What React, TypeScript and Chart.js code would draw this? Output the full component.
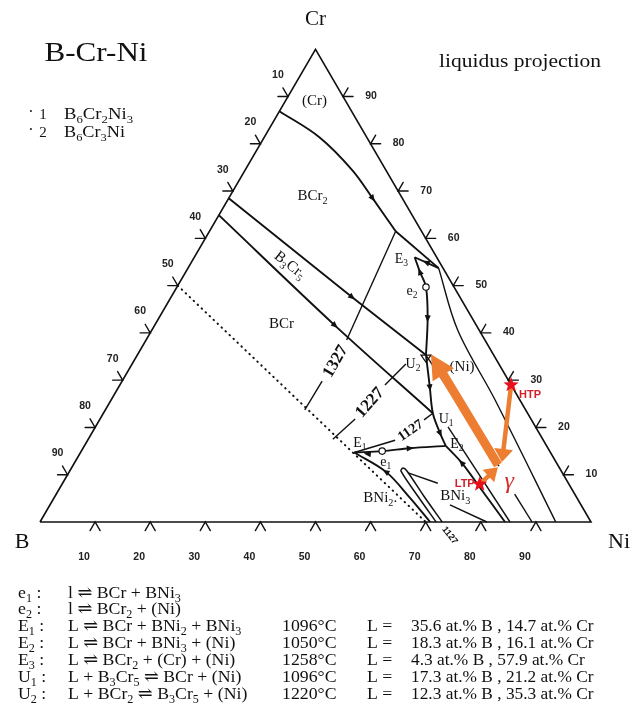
import { useEffect, useRef } from "react";
import { Chart, registerables } from "chart.js";
Chart.register(...registerables);

// ---------- data: compositions as [at.% B, at.% Cr] (Ni = 100 - B - Cr) ----------
type BC = [number, number];

const TICKS = [10, 20, 30, 40, 50, 60, 70, 80, 90];

// invariant reactions (table)
const INV_LABELS = ["e_1 :", "e_2 :", "E_1 :", "E_2 :", "E_3 :", "U_1 :", "U_2 :"];
const INV_REACTIONS = [
  "l ⇌ BCr + BNi_3",
  "l ⇌ BCr_2 + (Ni)",
  "L ⇌ BCr + BNi_2 + BNi_3",
  "L ⇌ BCr + BNi_3 + (Ni)",
  "L ⇌ BCr_2 + (Cr) + (Ni)",
  "L + B_3Cr_5 ⇌ BCr + (Ni)",
  "L + BCr_2 ⇌ B_3Cr_5 + (Ni)",
];
const INV_TEMPS = ["", "", "1096°C", "1050°C", "1258°C", "1096°C", "1220°C"];
const INV_B = [null, null, 35.6, 18.3, 4.3, 17.3, 12.3];
const INV_CR = [null, null, 14.7, 16.1, 57.9, 21.2, 35.3];

// invariant points as drawn
const P_E1: BC = [35.6, 14.7];
const P_E2: BC = [18.3, 16.1];
const P_U2: BC = [12.3, 35.3];
const P_E3: BC = [4.0, 56.0];
const P_U1: BC = [17.2, 23.0];
const P_V: BC = [4.7, 61.5];
const P_P1: BC = [0.8, 53.7];
const P_e1: BC = [30.4, 15.0];
const P_e2: BC = [5.1, 49.7];

// triangle outline: B, Cr, Ni, B
const EDGES: BC[] = [[100, 0], [0, 100], [0, 0], [100, 0]];

// boundary curves
const CR_BCR2: BC[] = [[13.1, 86.9], [8.6, 81.4], [6.1, 74.4], [5.4, 68.5], P_V];
const V_P1: BC[] = [P_V, P_P1];
const E3_P1: BC[] = [P_E3, P_P1];
const B3CR5_UPPER: BC[] = [[31.5, 68.5], [19.6, 47.6], P_U2];
const B3CR5_LOWER: BC[] = [[35.1, 64.9], [25.7, 41.6], P_U1];
const E3_U2: BC[] = [P_E3, [4.6, 52.9], P_e2, [8.1, 43.1], P_U2];
const U2_E2: BC[] = [P_U2, [15.0, 28.5], P_U1, [18.0, 18.8], P_E2];
const E1_E2: BC[] = [P_E1, P_e1, [25.1, 15.6], P_E2];
const E1_BASE: BC[] = [P_E1, [31.9, 10.6], [30.3, 5.1], [29.2, 0]];
const BNI3_DOME: BC[] = [[28.1, 0], [28.7, 5.5], [29.1, 10.8], [28.4, 11.4], [28.0, 10.8], [27.6, 5.5], [27.0, 0]];
const BNI3_LEAD1: BC[] = [[28.0, 10.4], [23.7, 8.2]];
const BNI3_LEAD2: BC[] = [[23.8, 3.6], [18.9, 0]];
const E2_BASE: BC[] = [P_E2, [17.2, 12.5], [16.5, 7.2], [15.6, 0]];
const U1_LINE: BC[] = [[15.9, 20.1], [14.7, 0]];
const U2_LINE_A: BC[] = [P_U2, [10.8, 11.8]];
const U2_LINE_B: BC[] = [[10.9, 5.9], [10.7, 0]];
const P1_LINE: BC[] = [P_P1, [3.9, 40.6], [4.5, 25.8], [6.4, 0]];
const DOTTED: BC[] = [[50, 50], [30, 0]];

// isotherms (two pieces each, label in the gap)
const ISO_LABELS = ["1327", "1227", "1127"];
const ISO_A: BC[][] = [[[40.1, 23.7], [33.9, 29.8]], [[38.1, 17.5], [31.9, 21.8]], [P_E1, [26.9, 17.3]]];
const ISO_B: BC[][] = [[[25.1, 38.5], P_V], [[22.9, 29.0], [16.9, 33.4]], [[19.5, 21.6], P_U1]];
const ISO_LABEL_POS: BC[] = [[29.5, 34.1], [27.6, 25.4], [23.1, 19.5]];

// direction arrowheads on the curves: [at, towards]
const FLOW_ARROWS: [BC, BC][] = [
  [[5.4, 68.5], P_V],
  [[19.6, 47.6], P_U2],
  [[25.7, 41.6], P_U1],
  [[4.6, 52.9], P_E3],
  [[8.1, 43.1], P_U2],
  [[15.0, 28.5], P_U1],
  [[18.0, 18.8], P_E2],
  [[2.4, 54.9], P_E3],
  [[25.1, 15.6], P_E2],
  [[33.3, 14.4], P_E1],
  [[31.9, 10.6], P_E1],
  [[17.2, 12.5], P_E2],
];

// phase-field labels
const FIELD_TEXT = ["(Cr)", "BCr_2", "BCr", "BNi_2.", "BNi_3", "(Ni)"];
const FIELD_POS: BC[] = [[5.6, 89.2], [16.0, 69.1], [35.1, 42.1], [35.6, 5.3], [21.8, 5.7], [6.9, 33.0]];
const B3CR5_POS: BC = [27.3, 54.5];
const POINT_TEXT = ["E_3", "e_2", "U_2", "U_1", "E_2", "E_1", "e_1"];
const POINT_POS: BC[] = [[6.5, 55.8], [8.0, 49.0], [15.5, 33.6], [15.3, 22.0], [16.0, 16.7], [33.5, 16.9], [30.8, 12.9]];

// annotations (orange arrows, stars)
const HTP: BC = [0, 29.0];
const LTP: BC = [16.2, 8.0];
const GAMMA: BC = [10.85, 12.05];
const ARROW_BIG: [BC, BC] = [GAMMA, [11.3, 35.5]];
const ARROW_HTP: [BC, BC] = [HTP, [9.8, 12.7]];
const ARROW_LTP: [BC, BC] = [LTP, [11.1, 11.6]];
const GAMMA_LABEL: BC = [10.4, 8.9];

// ---------- layout ----------
const W = 627;
const H = 701;
const PPU = 5.51;
const OX = 32;
const OY = 514;
const X_MIN = -OX / PPU;
const X_MAX = X_MIN + W / PPU;
const Y_MAX = OY / PPU;
const Y_MIN = Y_MAX - H / PPU;
const KX = 0.5;
const KY = 0.858;

const toXY = (p: BC) => {
  const [b, cr] = p;
  const ni = 100 - b - cr;
  return { x: ni + cr * KX, y: cr * KY };
};

const SERIF = '"Liberation Serif", "DejaVu Serif", serif';
const SANS = '"Liberation Sans", Arial, sans-serif';

function richText(
  ctx: CanvasRenderingContext2D,
  str: string,
  x: number,
  y: number,
  size: number,
  align: "left" | "center" | "right" = "left",
  opts: { family?: string; style?: string; color?: string; hs?: number; width?: number } = {}
) {
  const family = opts.family || SERIF;
  const style = opts.style ? opts.style + " " : "";
  const segs: { t: string; sub: boolean; w: number }[] = [];
  for (let i = 0; i < str.length; i++) {
    if (str[i] === "_" && i + 1 < str.length) {
      segs.push({ t: str[i + 1], sub: true, w: 0 });
      i++;
    } else {
      const last = segs[segs.length - 1];
      if (last && !last.sub) last.t += str[i];
      else segs.push({ t: str[i], sub: false, w: 0 });
    }
  }
  const mf = `${style}${size}px ${family}`;
  const sf = `${style}${(size * 0.68).toFixed(1)}px ${family}`;
  let w = 0;
  for (const s of segs) {
    ctx.font = s.sub ? sf : mf;
    s.w = ctx.measureText(s.t).width;
    w += s.w;
  }
  const hs = opts.width ? opts.width / w : opts.hs || 1;
  ctx.save();
  ctx.translate(x, 0);
  ctx.scale(hs, 1);
  let cx = align === "center" ? -w / 2 : align === "right" ? -w : 0;
  const base = y + size * 0.34;
  ctx.fillStyle = opts.color || "#111";
  ctx.textAlign = "left";
  ctx.textBaseline = "alphabetic";
  for (const s of segs) {
    ctx.font = s.sub ? sf : mf;
    ctx.fillText(s.t, cx, s.sub ? base + size * 0.24 : base);
    cx += s.w;
  }
  ctx.restore();
}

function fatArrow(ctx: CanvasRenderingContext2D, a: number[], b: number[], shaft: number, headW: number, headL: number) {
  const dx = b[0] - a[0], dy = b[1] - a[1];
  const L = Math.hypot(dx, dy);
  const ux = dx / L, uy = dy / L, nx = -uy, ny = ux;
  const bx = b[0] - ux * headL, by = b[1] - uy * headL;
  ctx.beginPath();
  ctx.moveTo(a[0] + (nx * shaft) / 2, a[1] + (ny * shaft) / 2);
  ctx.lineTo(bx + (nx * shaft) / 2, by + (ny * shaft) / 2);
  ctx.lineTo(bx + (nx * headW) / 2, by + (ny * headW) / 2);
  ctx.lineTo(b[0], b[1]);
  ctx.lineTo(bx - (nx * headW) / 2, by - (ny * headW) / 2);
  ctx.lineTo(bx - (nx * shaft) / 2, by - (ny * shaft) / 2);
  ctx.lineTo(a[0] - (nx * shaft) / 2, a[1] - (ny * shaft) / 2);
  ctx.closePath();
  ctx.fill();
}

function star(ctx: CanvasRenderingContext2D, x: number, y: number, R: number, r: number) {
  ctx.beginPath();
  for (let i = 0; i < 10; i++) {
    const ang = -Math.PI / 2 + (i * Math.PI) / 5;
    const rad = i % 2 === 0 ? R : r;
    const px = x + rad * Math.cos(ang), py = y + rad * Math.sin(ang);
    if (i === 0) ctx.moveTo(px, py);
    else ctx.lineTo(px, py);
  }
  ctx.closePath();
  ctx.fill();
}

const overlay = {
  id: "overlay",
  afterDatasetsDraw(chart: any) {
    const ctx: CanvasRenderingContext2D = chart.ctx;
    const sx = chart.scales.x, sy = chart.scales.y;
    const P = (p: BC) => {
      const q = toXY(p);
      return [sx.getPixelForValue(q.x), sy.getPixelForValue(q.y)];
    };
    ctx.save();
    const ink = "#111";
    ctx.strokeStyle = ink;
    ctx.fillStyle = ink;
    ctx.lineCap = "round";

    // ticks
    const pB = P([100, 0]), pC = P([0, 100]), pN = P([0, 0]);
    const norm = (v: number[]) => { const l = Math.hypot(v[0], v[1]); return [v[0] / l, v[1] / l]; };
    const dBC = norm([pC[0] - pB[0], pC[1] - pB[1]]);
    const dNC = norm([pC[0] - pN[0], pC[1] - pN[1]]);
    const TL = 10;
    ctx.lineWidth = 1.4;
    const chevron = (o: number[], a1: number[], a2: number[]) => {
      ctx.beginPath();
      ctx.moveTo(o[0] + a1[0] * TL, o[1] + a1[1] * TL);
      ctx.lineTo(o[0], o[1]);
      ctx.lineTo(o[0] + a2[0] * TL, o[1] + a2[1] * TL);
      ctx.stroke();
    };
    const tickFont = { family: SANS, style: "bold", color: "#222" };
    for (const t of TICKS) {
      // bottom: at.% Ni
      const ob = P([100 - t, 0]);
      chevron(ob, [-dBC[0], -dBC[1]], [-dNC[0], -dNC[1]]);
      richText(ctx, String(t), ob[0] - 11, ob[1] + 34, 10.5, "center", tickFont);
      // left: at.% B
      const ol = P([t, 100 - t]);
      chevron(ol, [-1, 0], dNC);
      richText(ctx, String(t), ol[0] - 10, ol[1] - 22, 10.5, "center", tickFont);
      // right: at.% Cr
      const or = P([0, t]);
      chevron(or, [1, 0], dBC);
      richText(ctx, String(t), or[0] + 28, or[1] - 1, 10.5, "center", tickFont);
    }

    // flow arrows
    for (const [at, to] of FLOW_ARROWS) {
      const a = P(at), b = P(to);
      const [ux, uy] = norm([b[0] - a[0], b[1] - a[1]]);
      const nx = -uy, ny = ux;
      ctx.beginPath();
      ctx.moveTo(a[0] + ux * 4, a[1] + uy * 4);
      ctx.lineTo(a[0] - ux * 3 + nx * 3, a[1] - uy * 3 + ny * 3);
      ctx.lineTo(a[0] - ux * 3 - nx * 3, a[1] - uy * 3 - ny * 3);
      ctx.closePath();
      ctx.fill();
    }
    // small open symbols
    ctx.lineWidth = 1.2;
    for (const p of [P_e1, P_e2]) {
      const q = P(p);
      ctx.fillStyle = "#fff";
      ctx.beginPath();
      ctx.arc(q[0], q[1], 3.2, 0, Math.PI * 2);
      ctx.fill();
      ctx.stroke();
    }
    {
      const q = P(P_U2);
      ctx.beginPath();
      ctx.moveTo(q[0] - 5, q[1]);
      ctx.lineTo(q[0] + 5, q[1]);
      ctx.lineTo(q[0], q[1] + 7);
      ctx.closePath();
      ctx.stroke();
    }

    // field labels
    FIELD_TEXT.forEach((s, i) => {
      const q = P(FIELD_POS[i]);
      richText(ctx, s, q[0], q[1], 15, "center");
    });
    {
      const q = P(B3CR5_POS);
      ctx.save();
      ctx.translate(q[0], q[1]);
      ctx.rotate((38 * Math.PI) / 180);
      richText(ctx, "B_3Cr_5", 0, 0, 15, "center");
      ctx.restore();
    }
    POINT_TEXT.forEach((s, i) => {
      const q = P(POINT_POS[i]);
      richText(ctx, s, q[0], q[1], 14, "center");
    });
    // isotherm labels
    const isoAng = [-59.7, -48.6, -34.6];
    ISO_LABELS.forEach((s, i) => {
      const q = P(ISO_LABEL_POS[i]);
      ctx.save();
      ctx.translate(q[0], q[1]);
      ctx.rotate((isoAng[i] * Math.PI) / 180);
      richText(ctx, s, 0, 0, i === 2 ? 14 : 17, "center", { style: "bold" });
      ctx.restore();
    });
    {
      const q = P([27.0, 0]);
      ctx.save();
      ctx.translate(q[0] + 8, q[1] + 13);
      ctx.rotate((52 * Math.PI) / 180);
      richText(ctx, "1127", 0, 0, 9, "center", { family: SANS, style: "bold" });
      ctx.restore();
    }

    // orange annotation arrows
    ctx.fillStyle = "#ED7D31";
    fatArrow(ctx, P(ARROW_BIG[0]), P(ARROW_BIG[1]), 9, 25, 24);
    fatArrow(ctx, P(ARROW_HTP[0]), P(ARROW_HTP[1]), 4.5, 19, 13);
    fatArrow(ctx, P(ARROW_LTP[0]), P(ARROW_LTP[1]), 4.5, 17, 13);
    // stars
    ctx.fillStyle = "#E8101A";
    const h = P(HTP), l = P(LTP);
    star(ctx, h[0], h[1], 8, 3.4);
    star(ctx, l[0], l[1], 8, 3.4);
    richText(ctx, "HTP", h[0] + 8, h[1] + 9, 11, "left", { family: SANS, style: "bold", color: "#D0202A" });
    richText(ctx, "LTP", l[0] - 5, l[1] - 1, 11, "right", { family: SANS, style: "bold", color: "#D0202A" });
    {
      const g = P(GAMMA_LABEL);
      richText(ctx, "γ", g[0], g[1], 24, "center", { style: "italic", color: "#D42A2A" });
    }

    // corner labels, title, legend
    richText(ctx, "Cr", pC[0], pC[1] - 31, 21, "center");
    richText(ctx, "B", 14, 533, 22, "center");
    richText(ctx, "Ni", 611, 533, 22, "center");
    richText(ctx, "B-Cr-Ni", 88, 44, 27, "center", { width: 103 });
    richText(ctx, "liquidus projection", 431, 53, 18, "left", { width: 162 });
    richText(ctx, "·", 23, 104, 16, "center");
    richText(ctx, "1", 35, 106, 15, "center");
    richText(ctx, "B_6Cr_2Ni_3", 56, 106, 16, "left", { width: 69 });
    richText(ctx, "·", 23, 122, 16, "center");
    richText(ctx, "2", 35, 124, 15, "center");
    richText(ctx, "B_6Cr_3Ni", 56, 124, 16, "left", { width: 61 });

    // table of invariant reactions
    const rowY = [584, 600, 617, 634, 651, 668, 685];
    const T = { hs: 1.045 };
    INV_LABELS.forEach((lab, i) => {
      const y = rowY[i];
      richText(ctx, lab, 10, y, 17, "left", T);
      richText(ctx, INV_REACTIONS[i], 60, y, 17, "left", T);
      if (INV_TEMPS[i]) {
        richText(ctx, INV_TEMPS[i], 274, y, 17, "left", T);
        richText(ctx, "L =", 359, y, 17, "left", T);
        richText(ctx, `${INV_B[i]} at.% B , ${INV_CR[i]} at.% Cr`, 403, y, 17, "left", { hs: 1.02 });
      }
    });
    ctx.restore();
  },
};

const line = (pts: BC[], opts: any = {}) => ({
  data: pts.map(toXY),
  showLine: true,
  borderColor: "#111",
  borderWidth: 1.9,
  pointRadius: 0,
  fill: false,
  tension: 0,
  ...opts,
});

export default function App() {
  const ref = useRef<HTMLCanvasElement>(null);
  useEffect(() => {
    if (!ref.current) return;
    const thin = { borderWidth: 1.4 };
    const curve = { tension: 0.35 };
    const datasets = [
      line(EDGES, { borderWidth: 1.6 }),
      line(CR_BCR2, curve),
      line(V_P1),
      line(E3_P1),
      line(B3CR5_UPPER),
      line(B3CR5_LOWER, curve),
      line(E3_U2, curve),
      line(U2_E2, curve),
      line(E1_E2, curve),
      line(E1_BASE, curve),
      line(BNI3_DOME, { tension: 0.3, borderWidth: 1.5 }),
      line(BNI3_LEAD1, thin),
      line(BNI3_LEAD2, thin),
      line(E2_BASE, curve),
      line(U1_LINE, thin),
      line(U2_LINE_A, thin),
      line(U2_LINE_B, thin),
      line(P1_LINE, { ...thin, ...curve }),
      line(DOTTED, { borderWidth: 2, borderDash: [0.5, 5], borderCapStyle: "round" }),
      ...ISO_A.map((p) => line(p, thin)),
      ...ISO_B.map((p) => line(p, thin)),
    ];
    const chart = new Chart(ref.current, {
      type: "scatter",
      data: { datasets },
      options: {
        animation: false,
        responsive: false,
        maintainAspectRatio: false,
        layout: { padding: 0 },
        events: [],
        scales: {
          x: { type: "linear", min: X_MIN, max: X_MAX, display: false },
          y: { type: "linear", min: Y_MIN, max: Y_MAX, display: false },
        },
        plugins: { legend: { display: false }, tooltip: { enabled: false } },
      },
      plugins: [overlay],
    });
    return () => chart.destroy();
  }, []);
  return (
    <div style={{ width: W, height: H, background: "#fff" }}>
      <canvas ref={ref} width={W} height={H} style={{ display: "block" }} />
    </div>
  );
}
